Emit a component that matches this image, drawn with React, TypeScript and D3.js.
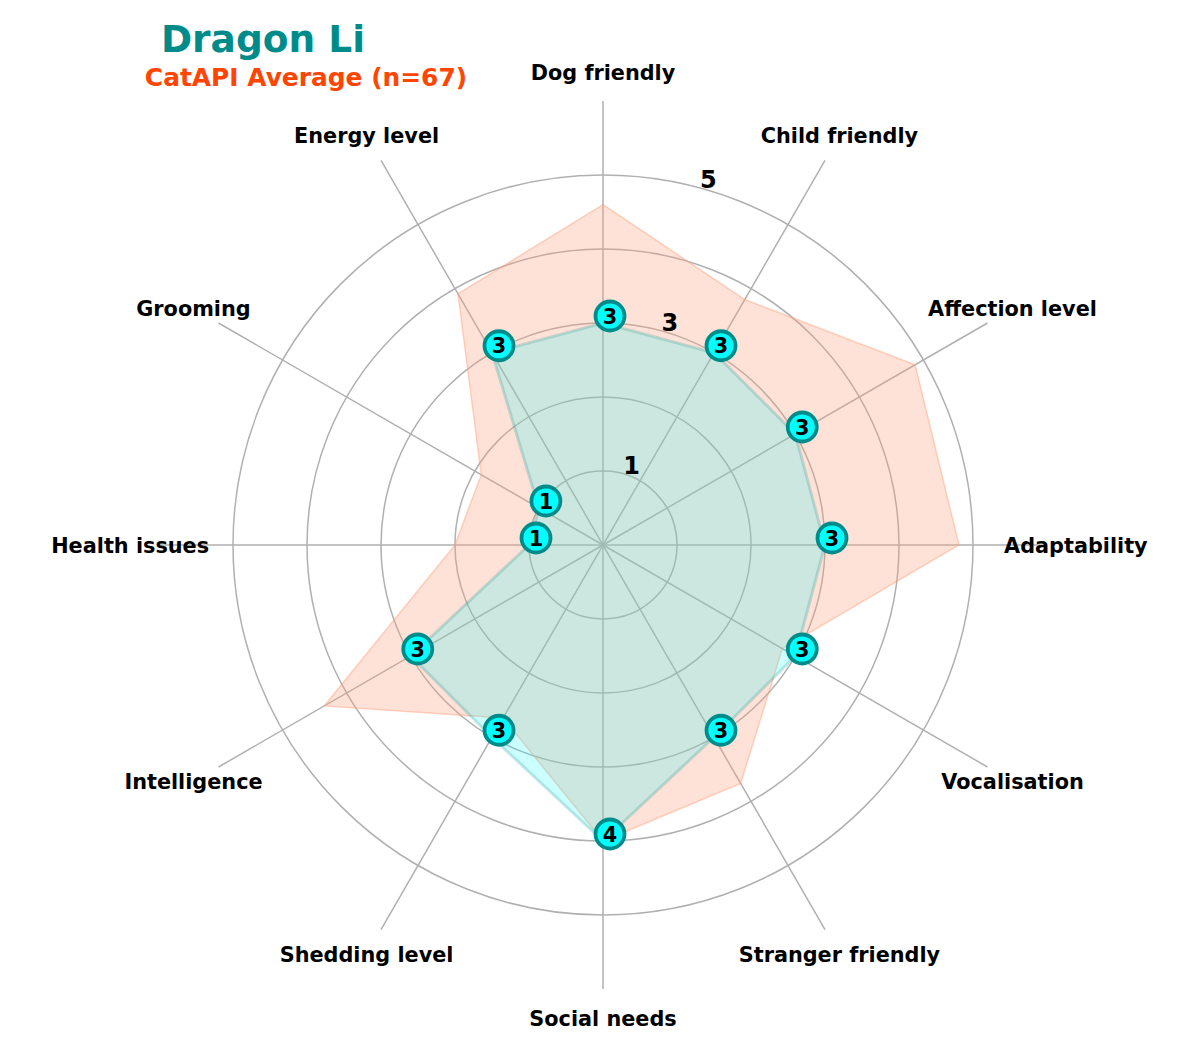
import React, { useEffect, useRef } from 'react';
import * as d3 from 'd3';

const categories = [
  'Dog friendly',
  'Child friendly',
  'Affection level',
  'Adaptability',
  'Vocalisation',
  'Stranger friendly',
  'Social needs',
  'Shedding level',
  'Intelligence',
  'Health issues',
  'Grooming',
  'Energy level',
];
const dragonLi = [3, 3, 3, 3, 3, 3, 4, 3, 3, 1, 1, 3];
const catApiAverage = [4.6, 3.83, 4.87, 4.81, 2.8, 3.72, 4.0, 2.7, 4.35, 2.0, 1.9, 3.92];
const ringTicks = [1, 2, 3, 4, 5];
const rTickLabels = [1, 3, 5];

const breedName = 'Dragon Li';
const subtitle = 'CatAPI Average (n=67)';

const WIDTH = 1200;
const HEIGHT = 1050;
const FONT = '"DejaVu Sans", Verdana, sans-serif';

const App = () => {
  const svgRef = useRef(null);

  useEffect(() => {
    const svg = d3.select(svgRef.current);
    svg.selectAll('*').remove();

    const cx = 603;
    const cy = 545;
    const r = d3.scaleLinear().domain([0, 6]).range([0, 444]);
    const angle = d3
      .scaleLinear()
      .domain([0, categories.length])
      .range([0, 2 * Math.PI]);

    const px = (i, v) => r(v) * Math.sin(angle(i));
    const py = (i, v) => -r(v) * Math.cos(angle(i));

    const g = svg.append('g').attr('transform', `translate(${cx},${cy})`);

    // grid rings
    g.selectAll('circle.ring')
      .data(ringTicks)
      .join('circle')
      .attr('class', 'ring')
      .attr('r', (d) => r(d))
      .attr('fill', 'none')
      .attr('stroke', '#b0b0b0')
      .attr('stroke-width', 1.5);

    // spokes
    g.selectAll('line.spoke')
      .data(categories)
      .join('line')
      .attr('class', 'spoke')
      .attr('x1', 0)
      .attr('y1', 0)
      .attr('x2', (d, i) => px(i, 6))
      .attr('y2', (d, i) => py(i, 6))
      .attr('stroke', '#b0b0b0')
      .attr('stroke-width', 1.5);

    const radar = d3
      .lineRadial()
      .angle((d, i) => angle(i))
      .radius((d) => r(d))
      .curve(d3.curveLinearClosed);

    // average polygon
    g.append('path')
      .attr('d', radar(catApiAverage))
      .attr('fill', '#FFA07A')
      .attr('fill-opacity', 0.3)
      .attr('stroke', '#FFA07A')
      .attr('stroke-opacity', 0.45)
      .attr('stroke-width', 1.5);

    // breed polygon
    g.append('path')
      .attr('d', radar(dragonLi))
      .attr('fill', '#00FFFF')
      .attr('fill-opacity', 0.2)
      .attr('stroke', '#008B8B')
      .attr('stroke-opacity', 0.22)
      .attr('stroke-width', 3);

    // radial tick labels
    const labelAngle = (15 * Math.PI) / 180;
    g.selectAll('text.rtick')
      .data(rTickLabels)
      .join('text')
      .attr('class', 'rtick')
      .attr('x', (d) => r(d) * Math.sin(labelAngle) + 9.5)
      .attr('y', (d) => -r(d) * Math.cos(labelAngle) - 8)
      .attr('dy', '0.36em')
      .attr('text-anchor', 'middle')
      .style('font-family', FONT)
      .style('font-weight', 'bold')
      .style('font-size', '24px')
      .text((d) => d);

    // category labels
    g.selectAll('text.cat')
      .data(categories)
      .join('text')
      .attr('class', 'cat')
      .attr('x', (d, i) => px(i, 6.39))
      .attr('y', (d, i) => py(i, 6.39))
      .attr('dy', '0.38em')
      .attr('text-anchor', 'middle')
      .style('font-family', FONT)
      .style('font-weight', 'bold')
      .style('font-size', '20.8px')
      .text((d) => d);

    // value markers, offset like an annotation
    const markers = g
      .selectAll('g.marker')
      .data(dragonLi)
      .join('g')
      .attr('class', 'marker')
      .attr('transform', (d, i) => `translate(${px(i, d) + 7},${py(i, d) - 7})`);

    markers
      .append('circle')
      .attr('r', 14.5)
      .attr('fill', '#00FFFF')
      .attr('stroke', '#008B8B')
      .attr('stroke-width', 3.8);

    markers
      .append('text')
      .attr('text-anchor', 'middle')
      .attr('dy', '0.36em')
      .style('font-family', FONT)
      .style('font-weight', 'bold')
      .style('font-size', '20.8px')
      .text((d) => d);

    // titles
    svg
      .append('text')
      .attr('x', 263)
      .attr('y', 52)
      .attr('text-anchor', 'middle')
      .style('font-family', FONT)
      .style('font-weight', 'bold')
      .style('font-size', '37.5px')
      .attr('fill', '#008B8B')
      .text(breedName);

    svg
      .append('text')
      .attr('x', 306)
      .attr('y', 86)
      .attr('text-anchor', 'middle')
      .style('font-family', FONT)
      .style('font-weight', 'bold')
      .style('font-size', '24.9px')
      .attr('fill', '#FF4500')
      .text(subtitle);
  }, []);

  return (
    <svg
      ref={svgRef}
      width={WIDTH}
      height={HEIGHT}
      style={{ position: 'absolute', left: 0, top: 0, background: '#fff' }}
    />
  );
};

export default App;
